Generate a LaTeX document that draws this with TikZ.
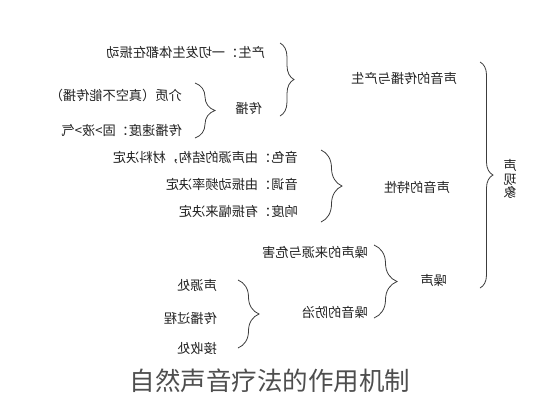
\documentclass[tikz,border=0pt]{standalone}
\usepackage{fontspec}
\usepackage{graphicx}
\usetikzlibrary{decorations.pathreplacing}
\newfontfamily\cjk{Noto Sans CJK SC}
\definecolor{inkgray}{HTML}{222222}
\definecolor{bracegray}{HTML}{3C3C3C}
% the whole chart is printed mirrored, so every label is reflected
\newcommand{\mirtext}[1]{\reflectbox{\cjk #1}}

\begin{document}
\begin{tikzpicture}[x=1pt,y=-1pt,
  every node/.style={font=\fontsize{13.2}{15}\selectfont,text=inkgray,inner sep=0pt},
  lbl/.style={anchor=east},
  curly/.style={decorate,decoration={brace,amplitude=#1},draw=bracegray,line width=0.8pt},
  curly/.default=18]
  \useasboundingbox (0,0) rectangle (533,400);

  % top branch: production and propagation
  \node[lbl] (produce) at (265,52) {\mirtext{产生：一切发生体都在振动}};
  \node[lbl] (spread) at (262,108) {\mirtext{传播}};
  \node[lbl] (medium) at (182,95) {\mirtext{介质（真空不能传播）}};
  \node[lbl] (speed) at (182,130) {\mirtext{传播速度：固>液>气}};
  \draw[curly=14] (280,43) -- (280,116);
  \draw[curly=20] (195,83) -- (195,138);
  \node[lbl] (spreadprod) at (457,78) {\mirtext{声音的传播与产生}};

  % middle branch: characteristics
  \node[lbl] (timbre) at (298,158) {\mirtext{音色：由声源的结构，材料决定}};
  \node[lbl] (pitch) at (298,184) {\mirtext{音调：由振动频率决定}};
  \node[lbl] (loud) at (298,211) {\mirtext{响度：有振幅来决定}};
  \draw[curly=21] (321,150) -- (321,222);
  \node[lbl] (traits) at (450,187) {\mirtext{声音的特性}};

  % bottom branch: noise
  \node[lbl] (source) at (368,252) {\mirtext{噪声的来源与危害}};
  \node[lbl] (control) at (368,312) {\mirtext{噪音的防治}};
  \draw[curly=23] (374,245) -- (374,318);
  \node[lbl] (noise) at (447,280) {\mirtext{噪声}};
  \node[lbl] (atsrc) at (217,285) {\mirtext{声源处}};
  \node[lbl] (onway) at (217,318) {\mirtext{传播过程}};
  \node[lbl] (atear) at (217,348) {\mirtext{接收处}};
  \draw[curly=21] (238,280) -- (238,348);

  % root
  \draw[curly=13] (480,62) -- (480,288);
  \node[align=center,font=\fontsize{13.2}{13.5}\selectfont] (root) at (510,179)
    {\mirtext{声}\\\mirtext{现}\\\mirtext{象}};

  \node[font=\fontsize{25.5}{28}\selectfont,text=inkgray!80] (title) at (270,381) {\cjk 自然声音疗法的作用机制};
\end{tikzpicture}
\end{document}
